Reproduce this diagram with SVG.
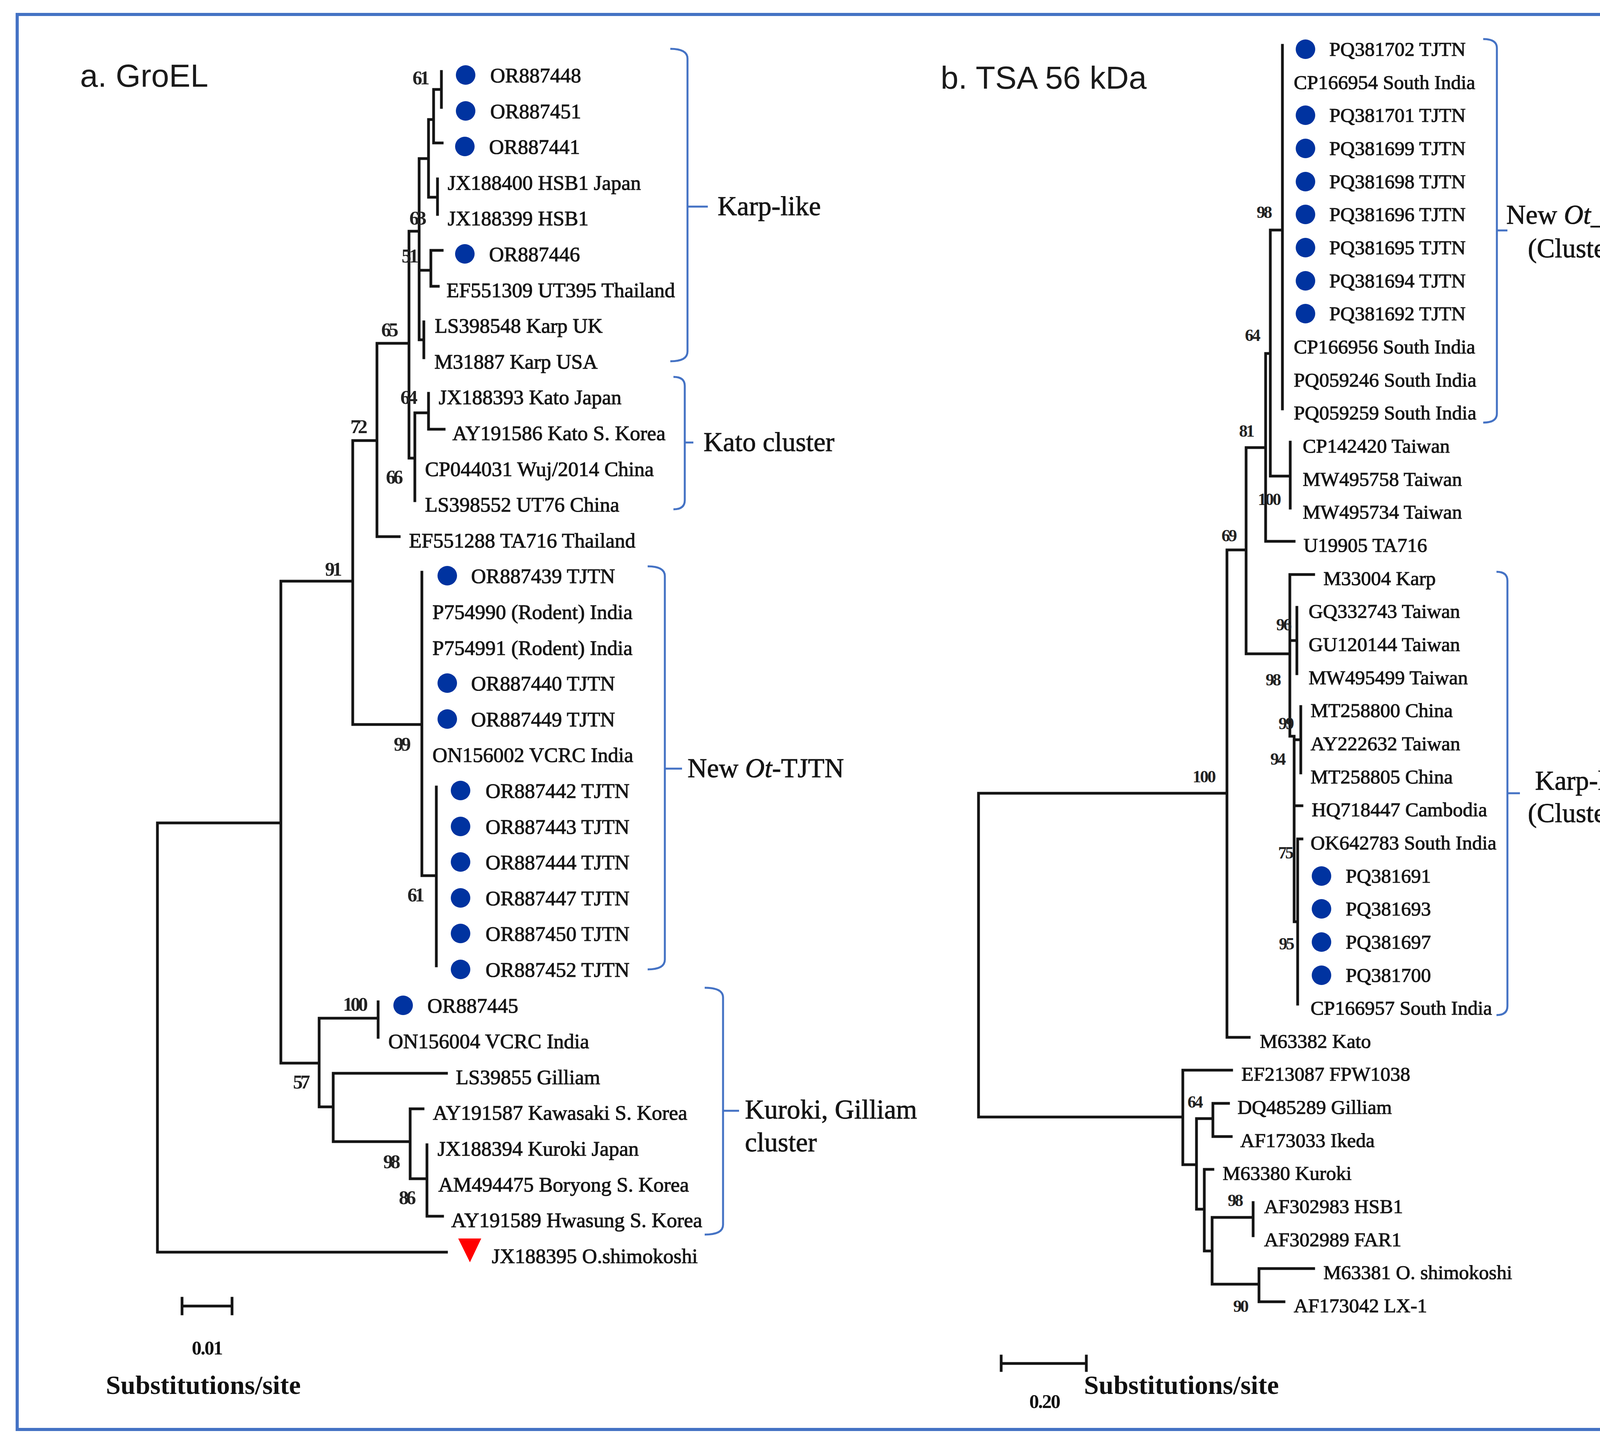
<svg xmlns="http://www.w3.org/2000/svg" width="4473" height="3710" viewBox="0 0 4473 3710">
<style>
.ln{stroke:#141414;stroke-width:7;fill:none;stroke-linecap:square}
.br{stroke:#4472C4;stroke-width:5;fill:none}
.lf{font-family:"Liberation Serif",serif;font-size:53px;fill:#151515;stroke:#151515;stroke-width:1.2}
.rf{font-family:"Liberation Serif",serif;font-size:51px;fill:#151515;stroke:#151515;stroke-width:1.2}
.bs{font-family:"Liberation Serif",serif;font-weight:bold;font-size:50px;fill:#222;text-anchor:middle}
.bsr{font-family:"Liberation Serif",serif;font-weight:bold;font-size:44px;fill:#222;text-anchor:middle}
.cl{font-family:"Liberation Serif",serif;font-size:69px;fill:#151515;stroke:#151515;stroke-width:1}
.dot{fill:#0033A0}
.ttl{font-family:"Liberation Sans",sans-serif;font-size:82px;fill:#1a1a1a}
.sc{font-family:"Liberation Serif",serif;font-weight:bold;fill:#111}
</style>
<rect x="44" y="37" width="4373" height="3623" fill="#fff" stroke="#4472C4" stroke-width="8"/>
<text class="ttl" x="205" y="222">a. GroEL</text>
<text class="ttl" x="2408" y="227">b. TSA 56 kDa</text>

<g id="connectors">
<path class="ln" d="M403,2107V3206M403,2107H719M403,3206H1143
M719,1488V2722M719,1488H903M719,2722H817
M903,1128V1855M903,1128H965M903,1855H1080
M965,879V1374M965,879H1047M965,1374H1022
M1047,592V1173M1047,592H1073M1047,1173H1062
M1073,406V870M1073,406H1097M1073,692H1103M1073,870H1085
M1097,306V505M1097,306H1110M1097,505H1120
M1110,229V366M1110,229H1130M1110,366H1132
M1130,183V275
M1120,458V549
M1103,641V733M1103,641H1132M1103,733H1122
M1085,824V916
M1062,1057V1282M1062,1057H1097
M1097,1007V1099M1097,1099H1137
M1080,1465V2242M1080,2242H1117
M1117,2015V2473
M817,2607V2834M817,2607H968M817,2834H853
M968,2565V2656
M853,2748V2923M853,2748H1143M853,2923H1050
M1050,2839V3018M1050,2839H1083M1050,3018H1093
M1093,2931V3114M1093,3114H1133"/>
<path class="ln" d="M2505,2031V2860M2505,2031H3141M2505,2860H3028
M3141,1408V2656M3141,1408H3190M3141,2656H3198
M3190,1146V1674M3190,1146H3240M3190,1674H3302
M3240,905V1386M3240,905H3252M3240,1386H3313
M3252,589V1219M3252,589H3283M3252,1219H3303
M3283,116V1047
M3303,1132V1301
M3302,1471V1885M3302,1471H3363
M3302,1640H3320M3320,1555V1725
M3302,1885H3313M3313,1885V2360
M3313,1894H3330M3330,1809V1979
M3313,2063H3333
M3313,2360H3322M3322,2148V2571M3322,2148H3333
M3028,2740V2982M3028,2740H3153M3028,2982H3063
M3063,2864V3096M3063,2864H3105M3105,2825V2910M3105,2825H3145M3105,2910H3152
M3063,3096H3083M3083,2994V3203M3083,2994H3105M3083,3203H3103
M3103,3117V3288M3103,3117H3208M3208,3079V3164M3103,3288H3223M3223,3248V3333M3223,3248H3363M3223,3333H3287"/>
<path class="br" d="M1716,125Q1760,125 1760,150V900Q1760,925 1716,925M1760,529H1812"/>
<path class="br" d="M1724,965Q1753,965 1753,988V1281Q1753,1304 1724,1304M1753,1133H1775"/>
<path class="br" d="M1658,1450Q1702,1450 1702,1475V2457Q1702,2482 1658,2482M1702,1968H1746"/>
<path class="br" d="M1804,2529Q1851,2529 1851,2554V3136Q1851,3161 1804,3161M1851,2844H1892"/>
<path class="br" d="M3797,100Q3832,100 3832,123V1059Q3832,1082 3797,1082M3832,590H3859"/>
<path class="br" d="M3831,1464Q3859,1464 3859,1487V2576Q3859,2599 3831,2599M3859,2031H3891"/>
</g>

<g id="bootstrap-a">
<text class="bs" x="1078" y="216" textLength="44">61</text>
<text class="bs" x="1070" y="575" textLength="44">63</text>
<text class="bs" x="1050" y="672" textLength="44">51</text>
<text class="bs" x="998" y="861" textLength="44">65</text>
<text class="bs" x="1047" y="1034" textLength="44">64</text>
<text class="bs" x="1010" y="1238" textLength="44">66</text>
<text class="bs" x="919" y="1109" textLength="44">72</text>
<text class="bs" x="854" y="1474" textLength="44">91</text>
<text class="bs" x="1030" y="1922" textLength="44">99</text>
<text class="bs" x="1065" y="2308" textLength="44">61</text>
<text class="bs" x="910" y="2588" textLength="64">100</text>
<text class="bs" x="772" y="2787" textLength="44">57</text>
<text class="bs" x="1003" y="2991" textLength="44">98</text>
<text class="bs" x="1043" y="3083" textLength="44">86</text>
</g>
<g id="bootstrap-b">
<text class="bsr" x="3237" y="558" textLength="40">98</text>
<text class="bsr" x="3207" y="873" textLength="40">64</text>
<text class="bsr" x="3192" y="1118" textLength="40">81</text>
<text class="bsr" x="3250" y="1293" textLength="60">100</text>
<text class="bsr" x="3147" y="1386" textLength="40">69</text>
<text class="bsr" x="3083" y="2003" textLength="60">100</text>
<text class="bsr" x="3287" y="1614" textLength="40">96</text>
<text class="bsr" x="3260" y="1755" textLength="40">98</text>
<text class="bsr" x="3293" y="1867" textLength="40">99</text>
<text class="bsr" x="3272" y="1958" textLength="40">94</text>
<text class="bsr" x="3292" y="2198" textLength="40">75</text>
<text class="bsr" x="3294" y="2431" textLength="40">95</text>
<text class="bsr" x="3060" y="2836" textLength="40">64</text>
<text class="bsr" x="3163" y="3088" textLength="40">98</text>
<text class="bsr" x="3177" y="3359" textLength="40">90</text>
</g>

<g id="tree-a-leaves">
<g id="a-OR887448"><circle class="dot" cx="1192" cy="192" r="25"/><text class="lf" x="1255" y="211">OR887448</text></g>
<g id="a-OR887451"><circle class="dot" cx="1192" cy="284" r="25"/><text class="lf" x="1255" y="303">OR887451</text></g>
<g id="a-OR887441"><circle class="dot" cx="1190" cy="375" r="25"/><text class="lf" x="1252" y="394">OR887441</text></g>
<g id="a-JX188400"><text class="lf" x="1146" y="486">JX188400 HSB1 Japan</text></g>
<g id="a-JX188399"><text class="lf" x="1146" y="577">JX188399 HSB1</text></g>
<g id="a-OR887446"><circle class="dot" cx="1190" cy="650" r="25"/><text class="lf" x="1252" y="669">OR887446</text></g>
<g id="a-EF551309"><text class="lf" x="1143" y="761">EF551309 UT395 Thailand</text></g>
<g id="a-LS398548"><text class="lf" x="1113" y="852">LS398548 Karp UK</text></g>
<g id="a-M31887"><text class="lf" x="1112" y="944">M31887 Karp USA</text></g>
<g id="a-JX188393"><text class="lf" x="1123" y="1035">JX188393 Kato Japan</text></g>
<g id="a-AY191586"><text class="lf" x="1158" y="1127">AY191586 Kato S. Korea</text></g>
<g id="a-CP044031"><text class="lf" x="1088" y="1219">CP044031 Wuj/2014 China</text></g>
<g id="a-LS398552"><text class="lf" x="1088" y="1310">LS398552 UT76 China</text></g>
<g id="a-EF551288"><text class="lf" x="1047" y="1402">EF551288 TA716 Thailand</text></g>
<g id="a-OR887439"><circle class="dot" cx="1145" cy="1474" r="25"/><text class="lf" x="1206" y="1493">OR887439 TJTN</text></g>
<g id="a-P754990"><text class="lf" x="1107" y="1585">P754990 (Rodent) India</text></g>
<g id="a-P754991"><text class="lf" x="1107" y="1677">P754991 (Rodent) India</text></g>
<g id="a-OR887440"><circle class="dot" cx="1145" cy="1749" r="25"/><text class="lf" x="1206" y="1768">OR887440 TJTN</text></g>
<g id="a-OR887449"><circle class="dot" cx="1145" cy="1841" r="25"/><text class="lf" x="1206" y="1860">OR887449 TJTN</text></g>
<g id="a-ON156002"><text class="lf" x="1107" y="1951">ON156002 VCRC India</text></g>
<g id="a-OR887442"><circle class="dot" cx="1179" cy="2024" r="25"/><text class="lf" x="1243" y="2043">OR887442 TJTN</text></g>
<g id="a-OR887443"><circle class="dot" cx="1179" cy="2116" r="25"/><text class="lf" x="1243" y="2135">OR887443 TJTN</text></g>
<g id="a-OR887444"><circle class="dot" cx="1179" cy="2207" r="25"/><text class="lf" x="1243" y="2226">OR887444 TJTN</text></g>
<g id="a-OR887447"><circle class="dot" cx="1179" cy="2299" r="25"/><text class="lf" x="1243" y="2318">OR887447 TJTN</text></g>
<g id="a-OR887450"><circle class="dot" cx="1179" cy="2390" r="25"/><text class="lf" x="1243" y="2409">OR887450 TJTN</text></g>
<g id="a-OR887452"><circle class="dot" cx="1179" cy="2482" r="25"/><text class="lf" x="1243" y="2501">OR887452 TJTN</text></g>
<g id="a-OR887445"><circle class="dot" cx="1032" cy="2574" r="25"/><text class="lf" x="1094" y="2593">OR887445</text></g>
<g id="a-ON156004"><text class="lf" x="994" y="2684">ON156004 VCRC India</text></g>
<g id="a-LS39855"><text class="lf" x="1167" y="2776">LS39855 Gilliam</text></g>
<g id="a-AY191587"><text class="lf" x="1108" y="2867">AY191587 Kawasaki S. Korea</text></g>
<g id="a-JX188394"><text class="lf" x="1120" y="2959">JX188394 Kuroki Japan</text></g>
<g id="a-AM494475"><text class="lf" x="1122" y="3051">AM494475 Boryong S. Korea</text></g>
<g id="a-AY191589"><text class="lf" x="1155" y="3142">AY191589 Hwasung S. Korea</text></g>
<g id="a-JX188395"><polygon points="1173,3171 1232,3171 1203,3232" fill="#FF0000"/><text class="lf" x="1259" y="3234">JX188395 O.shimokoshi</text></g>
</g>

<g id="clusters-a">
<text class="cl" x="1837" y="551">Karp-like</text>
<text class="cl" x="1801" y="1155">Kato cluster</text>
<text class="cl" x="1760" y="1990">New <tspan font-style="italic">Ot</tspan>-TJTN</text>
<text class="cl" x="1907" y="2864" font-size="61">Kuroki, Gilliam</text>
<text class="cl" x="1907" y="2948" font-size="61">cluster</text>
</g>

<g id="tree-b-leaves">
<g id="b-PQ381702"><circle class="dot" cx="3342" cy="126" r="25"/><text class="rf" x="3403" y="143">PQ381702 TJTN</text></g>
<g id="b-CP166954"><text class="rf" x="3312" y="228">CP166954 South India</text></g>
<g id="b-PQ381701"><circle class="dot" cx="3342" cy="295" r="25"/><text class="rf" x="3403" y="312">PQ381701 TJTN</text></g>
<g id="b-PQ381699"><circle class="dot" cx="3342" cy="380" r="25"/><text class="rf" x="3403" y="397">PQ381699 TJTN</text></g>
<g id="b-PQ381698"><circle class="dot" cx="3342" cy="465" r="25"/><text class="rf" x="3403" y="482">PQ381698 TJTN</text></g>
<g id="b-PQ381696"><circle class="dot" cx="3342" cy="549" r="25"/><text class="rf" x="3403" y="566">PQ381696 TJTN</text></g>
<g id="b-PQ381695"><circle class="dot" cx="3342" cy="634" r="25"/><text class="rf" x="3403" y="651">PQ381695 TJTN</text></g>
<g id="b-PQ381694"><circle class="dot" cx="3342" cy="719" r="25"/><text class="rf" x="3403" y="736">PQ381694 TJTN</text></g>
<g id="b-PQ381692"><circle class="dot" cx="3342" cy="803" r="25"/><text class="rf" x="3403" y="820">PQ381692 TJTN</text></g>
<g id="b-CP166956"><text class="rf" x="3312" y="905">CP166956 South India</text></g>
<g id="b-PQ059246"><text class="rf" x="3312" y="990">PQ059246 South India</text></g>
<g id="b-PQ059259"><text class="rf" x="3312" y="1074">PQ059259 South India</text></g>
<g id="b-CP142420"><text class="rf" x="3335" y="1159">CP142420 Taiwan</text></g>
<g id="b-MW495758"><text class="rf" x="3335" y="1244">MW495758 Taiwan</text></g>
<g id="b-MW495734"><text class="rf" x="3335" y="1328">MW495734 Taiwan</text></g>
<g id="b-U19905"><text class="rf" x="3337" y="1413">U19905 TA716</text></g>
<g id="b-M33004"><text class="rf" x="3388" y="1498">M33004 Karp</text></g>
<g id="b-GQ332743"><text class="rf" x="3350" y="1582">GQ332743 Taiwan</text></g>
<g id="b-GU120144"><text class="rf" x="3350" y="1667">GU120144 Taiwan</text></g>
<g id="b-MW495499"><text class="rf" x="3350" y="1752">MW495499 Taiwan</text></g>
<g id="b-MT258800"><text class="rf" x="3355" y="1836">MT258800 China</text></g>
<g id="b-AY222632"><text class="rf" x="3355" y="1921">AY222632 Taiwan</text></g>
<g id="b-MT258805"><text class="rf" x="3355" y="2006">MT258805 China</text></g>
<g id="b-HQ718447"><text class="rf" x="3358" y="2090">HQ718447 Cambodia</text></g>
<g id="b-OK642783"><text class="rf" x="3355" y="2175">OK642783 South India</text></g>
<g id="b-PQ381691"><circle class="dot" cx="3383" cy="2243" r="25"/><text class="rf" x="3445" y="2260">PQ381691</text></g>
<g id="b-PQ381693"><circle class="dot" cx="3383" cy="2327" r="25"/><text class="rf" x="3445" y="2344">PQ381693</text></g>
<g id="b-PQ381697"><circle class="dot" cx="3383" cy="2412" r="25"/><text class="rf" x="3445" y="2429">PQ381697</text></g>
<g id="b-PQ381700"><circle class="dot" cx="3383" cy="2497" r="25"/><text class="rf" x="3445" y="2514">PQ381700</text></g>
<g id="b-CP166957"><text class="rf" x="3355" y="2598">CP166957 South India</text></g>
<g id="b-M63382"><text class="rf" x="3225" y="2683">M63382 Kato</text></g>
<g id="b-EF213087"><text class="rf" x="3178" y="2767">EF213087 FPW1038</text></g>
<g id="b-DQ485289"><text class="rf" x="3168" y="2852">DQ485289 Gilliam</text></g>
<g id="b-AF173033"><text class="rf" x="3175" y="2937">AF173033 Ikeda</text></g>
<g id="b-M63380"><text class="rf" x="3130" y="3021">M63380 Kuroki</text></g>
<g id="b-AF302983"><text class="rf" x="3236" y="3106">AF302983 HSB1</text></g>
<g id="b-AF302989"><text class="rf" x="3236" y="3191">AF302989 FAR1</text></g>
<g id="b-M63381"><text class="rf" x="3388" y="3275">M63381 O. shimokoshi</text></g>
<g id="b-AF173042"><text class="rf" x="3312" y="3360">AF173042 LX-1</text></g>
</g>

<g id="clusters-b">
<text class="cl" x="4062" y="573" text-anchor="middle">New <tspan font-style="italic">Ot</tspan>_TJTN</text>
<text class="cl" x="4062" y="659" text-anchor="middle">(Cluster-1)</text>
<text class="cl" x="4062" y="2022" text-anchor="middle">Karp-like</text>
<text class="cl" x="4062" y="2105" text-anchor="middle">(Cluster-2)</text>
</g>

<g id="scale-a">
<path class="ln" d="M466,3344H594M466,3324V3364M594,3324V3364"/>
<text class="sc" x="531" y="3468" font-size="50" text-anchor="middle" textLength="80">0.01</text>
<text class="sc" x="271" y="3569" font-size="68">Substitutions/site</text>
</g>
<g id="scale-b">
<path class="ln" d="M2563,3491H2781M2563,3472V3509M2781,3472V3509"/>
<text class="sc" x="2675" y="3605" font-size="50" text-anchor="middle" textLength="80">0.20</text>
<text class="sc" x="2775" y="3569" font-size="68">Substitutions/site</text>
</g>
</svg>
